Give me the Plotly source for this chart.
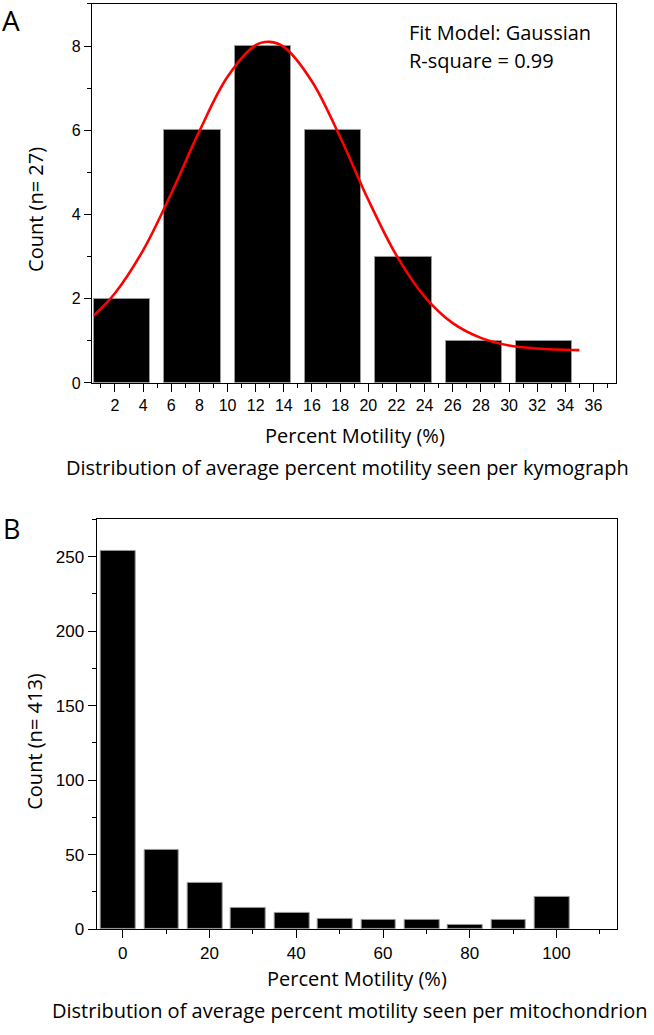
import plotly.graph_objects as go

# ---------- Panel A data ----------
a_bin_centers = [2.5, 7.5, 12.5, 17.5, 22.5, 27.5, 32.5]
a_counts = [2, 6, 8, 6, 3, 1, 1]
# Gaussian fit curve
a_fit_x = [0.5, 2, 4, 6, 8, 10, 12, 13, 14, 16, 18, 20, 22, 24, 26, 28, 30, 32, 35]
a_fit_y = [1.60, 2.13, 3.15, 4.50, 5.98, 7.27, 8.02, 8.10, 7.98, 7.16, 5.84, 4.35,
           3.03, 2.05, 1.42, 1.07, 0.89, 0.82, 0.78]
a_xticks = list(range(2, 37, 2))
a_yticks = [0, 2, 4, 6, 8]

# ---------- Panel B data ----------
b_bins = [0, 10, 20, 30, 40, 50, 60, 70, 80, 90, 100]
b_counts = [254, 53, 31, 14, 11, 7, 6, 6, 3, 6, 22]
b_xticks = [0, 20, 40, 60, 80, 100]
b_yticks = [0, 50, 100, 150, 200, 250]

W, H = 654, 1035
TXT = "Open Sans"
NUM = "Liberation Sans"

def px_x(p):
    return p / W

def px_y(p):
    return 1 - p / H

fig = go.Figure()

fig.add_trace(go.Bar(
    x=a_bin_centers, y=a_counts, width=4,
    marker=dict(color="black", line=dict(color="#9a9a9a", width=1)),
    xaxis="x", yaxis="y", showlegend=False))
fig.add_trace(go.Scatter(
    x=a_fit_x, y=a_fit_y, mode="lines", line=dict(color="#ff0000", width=2.6, shape="spline"),
    xaxis="x", yaxis="y", showlegend=False))

fig.add_trace(go.Bar(
    x=b_bins, y=b_counts, width=8, offset=-5,
    marker=dict(color="black", line=dict(color="#9a9a9a", width=1)),
    xaxis="x2", yaxis="y2", showlegend=False))

axis_common = dict(showline=True, linecolor="black", linewidth=1.3, mirror=True,
                   ticks="outside", tickcolor="black", tickwidth=1.2,
                   showgrid=False, zeroline=False)

fig.update_layout(
    width=W, height=H,
    margin=dict(l=0, r=0, t=0, b=0),
    paper_bgcolor="white", plot_bgcolor="white",
    bargap=0,
    xaxis=dict(**axis_common, domain=[px_x(92), px_x(616)], range=[0.37, 37.6],
               tickvals=a_xticks, ticklen=8,
               minor=dict(ticks="outside", dtick=1, tick0=0, ticklen=4, tickcolor="black", tickwidth=1.2),
               tickfont=dict(family=NUM, size=16, color="black"), anchor="y"),
    yaxis=dict(**axis_common, domain=[px_y(386.7), px_y(4)], range=[0, 9.0],
               tickvals=a_yticks, ticklen=7,
               minor=dict(ticks="outside", dtick=1, tick0=0, ticklen=4, tickcolor="black", tickwidth=1.2),
               tickfont=dict(family=NUM, size=16, color="black"), anchor="x"),
    xaxis2=dict(**axis_common, domain=[px_x(96.7), px_x(617.3)], range=[-6, 114],
                tickvals=b_xticks, ticklen=8,
                minor=dict(ticks="outside", dtick=10, tick0=0, ticklen=4, tickcolor="black", tickwidth=1.2),
                tickfont=dict(family=NUM, size=17, color="black"), anchor="y2"),
    yaxis2=dict(**axis_common, domain=[px_y(938.3), px_y(524)], range=[0, 275.3],
                tickvals=b_yticks, ticklen=8,
                minor=dict(ticks="outside", dtick=25, tick0=0, ticklen=4, tickcolor="black", tickwidth=1.2),
                tickfont=dict(family=NUM, size=17, color="black"), anchor="x2"),
)

def ann(text, x, y, size, family=TXT, angle=0, xanchor="center", yanchor="middle"):
    fig.add_annotation(text=text, x=px_x(x), y=px_y(y), xref="paper", yref="paper",
                       showarrow=False, textangle=angle, xanchor=xanchor, yanchor=yanchor,
                       borderpad=0,
                       font=dict(family=family, size=size, color="black"))

# panel letters
ann("A", 1, 0, 28, xanchor="left", yanchor="top")
ann("B", 2, 534, 27, xanchor="left")
# fit info
ann("Fit Model: Gaussian", 408, 33, 20, xanchor="left")
ann("R-square = 0.99", 408, 61, 20, xanchor="left")
# axis titles
ann("Count (n= 27)", 36, 212, 20, angle=-90)
ann("Percent Motility (%)", 355, 440, 20)
ann("Distribution of average percent motility seen per kymograph", 347, 472, 20)
ann("Count (n= 413)", 35, 749, 20, angle=-90)
ann("Percent Motility (%)", 357, 988, 20)
ann("Distribution of average percent motility seen per mitochondrion", 350, 1020, 20)

fig.write_html("out.html", config={"displayModeBar": False},
               post_script="document.body.style.margin='0px';document.body.style.overflow='hidden';")
